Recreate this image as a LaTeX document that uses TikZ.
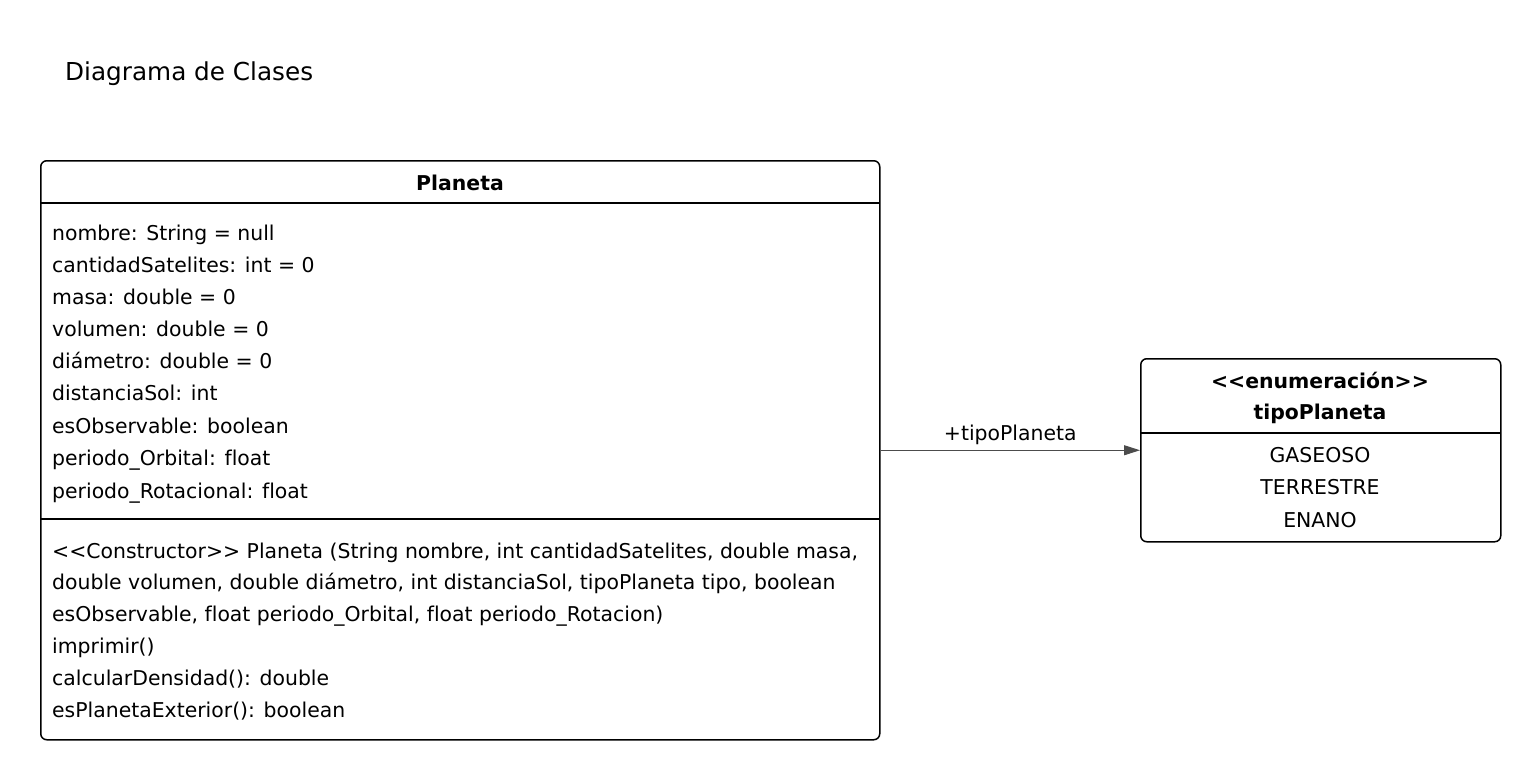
\documentclass[tikz,border=0pt]{standalone}
\usepackage{fontspec}
\setmainfont{DejaVu Sans}[Ligatures=NoCommon]
\usetikzlibrary{arrows.meta}
\tikzset{
  box/.style={draw=black, line width=1.5pt, rounded corners=6pt, inner sep=0pt},
  txt/.style={inner sep=0pt, anchor=west, font=\fontsize{20.4}{24}\selectfont, text height=14.8pt, text depth=0pt},
  ctxt/.style={txt, anchor=center},
  btxt/.style={ctxt, font=\fontsize{20.4}{24}\selectfont\bfseries},
  divider/.style={draw=black, line width=1.5pt},
  assoc/.style={draw=black!70, line width=1pt, -{Triangle[length=16pt,width=10pt]}},
}
\begin{document}
\begin{tikzpicture}[x=1pt,y=-1pt]
\useasboundingbox (0,0) rectangle (1540,779);
\node[txt, font=\fontsize{24.7}{28}\selectfont, text height=18pt] (title) at (65,71) {Diagrama de Clases};
% Planeta class
\node[box, minimum width=839pt, minimum height=579pt, anchor=north west] (planeta) at (40,160) {};
\coordinate (d1l) at (40,203); \coordinate (d1r) at (879,203);
\coordinate (d2l) at (40,519); \coordinate (d2r) at (879,519);
\draw[divider] (d1l) -- (d1r);
\draw[divider] (d2l) -- (d2r);
\node[btxt] (pname) at (460,183) {Planeta};
\node[txt] (a1) at (52,233) {nombre: String = null};
\node[txt] (a2) at (52,265) {cantidadSatelites: int = 0};
\node[txt] (a3) at (52,297) {masa: double = 0};
\node[txt] (a4) at (52,329) {volumen: double = 0};
\node[txt] (a5) at (52,361) {diámetro: double = 0};
\node[txt] (a6) at (52,393) {distanciaSol: int};
\node[txt] (a7) at (52,426) {esObservable: boolean};
\node[txt] (a8) at (52,458) {periodo\_Orbital: float};
\node[txt] (a9) at (52,491) {periodo\_Rotacional: float};
\node[txt] (m1) at (52,551) {<{}<Constructor>{}> Planeta (String nombre, int cantidadSatelites, double masa,};
\node[txt] (m2) at (52,582) {double volumen, double diámetro, int distanciaSol, tipoPlaneta tipo, boolean};
\node[txt] (m3) at (52,614) {esObservable, float periodo\_Orbital, float periodo\_Rotacion)};
\node[txt] (m4) at (52,646) {imprimir()};
\node[txt] (m5) at (52,678) {calcularDensidad(): double};
\node[txt] (m6) at (52,710) {esPlanetaExterior(): boolean};
% Enum
\node[box, minimum width=360pt, minimum height=183pt, anchor=north west] (enum) at (1140,358) {};
\coordinate (e1l) at (1140,433); \coordinate (e1r) at (1500,433);
\draw[divider] (e1l) -- (e1r);
\node[btxt] (stereo) at (1320,381) {<{}<enumeración>{}>};
\node[btxt] (ename) at (1320,412) {tipoPlaneta};
\node[ctxt] (v1) at (1320,455) {GASEOSO};
\node[ctxt] (v2) at (1320,487) {TERRESTRE};
\node[ctxt] (v3) at (1320,520) {ENANO};
% association
\draw[assoc] (planeta.east) -- node[ctxt, above=9pt] (lbl) {+tipoPlaneta} (enum.west);
\end{tikzpicture}
\end{document}
